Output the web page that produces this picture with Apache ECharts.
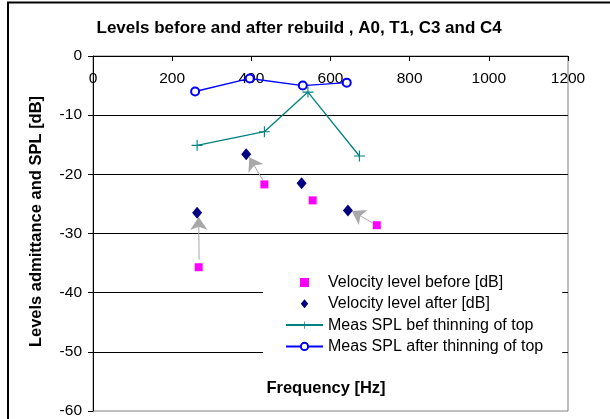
<!DOCTYPE html>
<html>
<head>
<meta charset="utf-8">
<script src="https://cdn.jsdelivr.net/npm/echarts@6/dist/echarts.min.js"></script>
<style>html,body{margin:0;padding:0;background:#fff;}#c{width:610px;height:419px;}</style>
</head>
<body>
<div id="c"></div>
<script>
// ---- data ----
var xTicks = [0, 200, 400, 600, 800, 1000, 1200];
var yTicks = [0, -10, -20, -30, -40, -50, -60];

var velBeforeX = [267, 433, 555, 717];
var velBeforeY = [-35.7, -21.7, -24.4, -28.6];

var velAfterX = [263, 387, 527, 644];
var velAfterY = [-26.5, -16.6, -21.5, -26.1];

var splBefX = [263, 433, 543, 673];
var splBefY = [-15.1, -12.8, -6.1, -16.9];

var splAftX = [258, 396, 530, 641];
var splAftY = [-6.0, -3.8, -5.0, -4.5];

// arrow annotations (before -> after)
var arrowStart = [[268, -34.4], [429, -21.0], [706, -28.2]];
var arrowEnd   = [[267, -27.2], [395, -17.1], [654, -26.2]];

var seriesNames = ['Velocity level before [dB]', 'Velocity level after [dB]',
  'Meas SPL bef thinning of top', 'Meas SPL after thinning of top'];
var chartTitle = 'Levels before and after rebuild , A0, T1, C3 and C4';
var xTitle = 'Frequency [Hz]';
var yTitle = 'Levels admittance and SPL [dB]';

function zip(a, b) { return a.map(function (v, i) { return [v, b[i]]; }); }

var FONT = '"Liberation Sans", Arial, sans-serif';
var chart = echarts.init(document.getElementById('c'), null, {renderer: 'canvas'});

var arrows = arrowStart.map(function (s, i) {
  return [{coord: s}, {coord: arrowEnd[i]}];
});

chart.setOption({
  animation: false,
  backgroundColor: '#fff',
  textStyle: {fontFamily: FONT},
  grid: {left: 93, right: 42, top: 56, bottom: 8, show: true, borderColor: '#808080', borderWidth: 1, backgroundColor: 'transparent'},
  xAxis: {
    type: 'value', position: 'top', min: xTicks[0], max: xTicks[xTicks.length - 1], interval: 200,
    axisLine: {show: true, lineStyle: {color: '#000', width: 1}},
    axisTick: {show: true, inside: true, length: 5, lineStyle: {color: '#000'}},
    axisLabel: {inside: true, margin: 15, color: '#000', fontSize: 15.5, fontFamily: FONT,
      formatter: function (v) { return String(v); }},
    splitLine: {show: false}
  },
  yAxis: {
    type: 'value', min: yTicks[yTicks.length - 1], max: yTicks[0], interval: 10,
    axisLine: {show: true, onZero: false, lineStyle: {color: '#000', width: 1}},
    axisTick: {show: true, inside: false, length: 5, lineStyle: {color: '#000'}},
    axisLabel: {margin: 11, color: '#000', fontSize: 15.5, fontFamily: FONT},
    splitLine: {show: true, showMinLine: false, lineStyle: {color: '#000', width: 1}}
  },
  legend: {
    orient: 'vertical', left: 263, top: 266,
    padding: [8, 19, 8, 22],
    backgroundColor: '#fff',
    itemWidth: 37, itemHeight: 9, itemGap: 4.3,
    symbolKeepAspect: true,
    textStyle: {fontSize: 16, color: '#000', fontFamily: FONT, lineHeight: 17},
    data: [
      {name: seriesNames[0], icon: 'path://M0,0H10V10H0Z'},
      {name: seriesNames[1], icon: 'path://M5,0L10,6L5,12L0,6Z'},
      {name: seriesNames[2]},
      {name: seriesNames[3]}
    ]
  },
  graphic: [
    {type: 'line', shape: {x1: 7, y1: 2.5, x2: 610, y2: 2.5}, style: {stroke: '#000', lineWidth: 2}, z: 100},
    {type: 'line', shape: {x1: 8, y1: 2, x2: 8, y2: 419}, style: {stroke: '#000', lineWidth: 2}, z: 100},
    {type: 'text', x: 96.5, y: 28, style: {text: chartTitle, font: 'bold 17px ' + FONT, fill: '#000', align: 'left', verticalAlign: 'middle'}, z: 100},
    {type: 'text', x: 326, y: 388, style: {text: xTitle, font: 'bold 16.5px ' + FONT, fill: '#000', align: 'center', verticalAlign: 'middle'}, z: 100},
    {type: 'text', x: 36.5, y: 221.5, rotation: Math.PI / 2, style: {text: yTitle, font: 'bold 16.5px ' + FONT, fill: '#000', align: 'center', verticalAlign: 'middle'}, z: 100}
  ],
  series: [
    {
      name: seriesNames[0], type: 'scatter', data: zip(velBeforeX, velBeforeY),
      symbol: 'rect', symbolSize: 8, itemStyle: {color: '#FF00FF', opacity: 1}, z: 3,
      markLine: {
        silent: true, symbol: ['none', 'arrow'], symbolSize: 13,
        label: {show: false},
        lineStyle: {color: '#A8A8A8', width: 1, type: 'solid', opacity: 1},
        emphasis: {disabled: true},
        data: arrows
      }
    },
    {
      name: seriesNames[1], type: 'scatter', data: zip(velAfterX, velAfterY),
      symbol: 'diamond', symbolSize: [10, 12], itemStyle: {color: '#000080', opacity: 1}, z: 4
    },
    {
      name: seriesNames[2], type: 'line', data: zip(splBefX, splBefY),
      symbol: 'path://M4.5,0H5.5V4.5H10V5.5H5.5V10H4.5V5.5H0V4.5H4.5Z', symbolSize: 11,
      lineStyle: {color: '#008080', width: 1.3}, itemStyle: {color: '#008080'}, z: 5
    },
    {
      name: seriesNames[3], type: 'line', data: zip(splAftX, splAftY),
      symbol: 'emptyCircle', symbolSize: 8,
      lineStyle: {color: '#0000FF', width: 1.3}, itemStyle: {color: '#0000FF', borderWidth: 1}, z: 5
    }
  ]
});
</script>
</body>
</html>
